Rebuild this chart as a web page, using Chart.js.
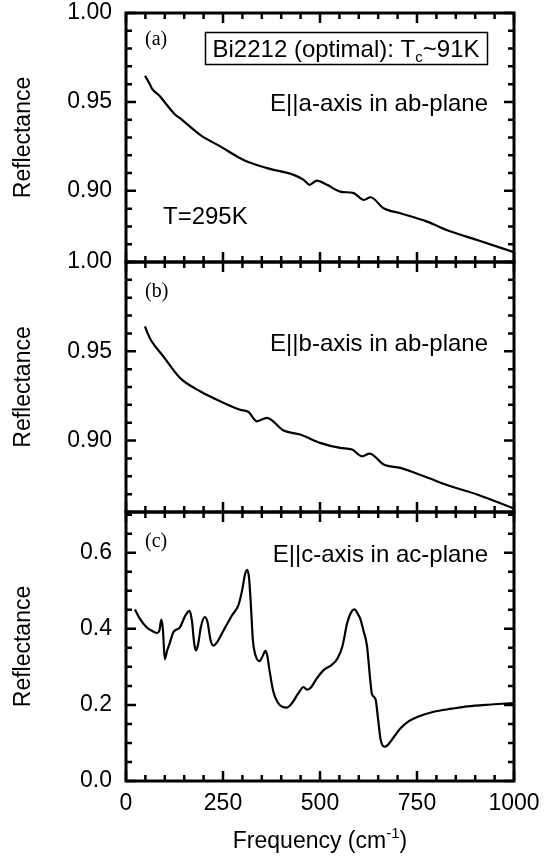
<!DOCTYPE html>
<html><head><meta charset="utf-8">
<script src="https://cdn.jsdelivr.net/npm/chart.js@4.4.0/dist/chart.umd.min.js"></script>
<style>
html,body{margin:0;padding:0;background:#fff;width:547px;height:861px;overflow:hidden;position:relative}
canvas{position:absolute;left:0}
</style></head><body>
<canvas id="ca" width="600" height="320" style="top:-20px"></canvas>
<canvas id="cb" width="600" height="320" style="top:230px"></canvas>
<canvas id="cc" width="600" height="381" style="top:480px"></canvas>
<script>
// ---- data ----
const freqA = [49, 62, 66, 88, 105, 127, 139, 191, 243, 303, 363, 432, 458, 473, 492, 518, 552, 587, 613, 630, 664, 707, 776, 837, 905, 1000];
const reflA = [0.9647, 0.9597, 0.9578, 0.9531, 0.9484, 0.9428, 0.9409, 0.9315, 0.9250, 0.9174, 0.9128, 0.9090, 0.9062, 0.9034, 0.9058, 0.9034, 0.8996, 0.8987, 0.8949, 0.8964, 0.8902, 0.8874, 0.8827, 0.8771, 0.8724, 0.8655];

const freqB = [49, 57, 66, 96, 139, 191, 243, 294, 316, 337, 363, 406, 449, 500, 552, 583, 608, 628, 664, 707, 768, 837, 905, 1000];
const reflB = [0.964, 0.9595, 0.9556, 0.9472, 0.9351, 0.9276, 0.9220, 0.9173, 0.9160, 0.9108, 0.9127, 0.9056, 0.9034, 0.8987, 0.8959, 0.8950, 0.8912, 0.8927, 0.8866, 0.8847, 0.8800, 0.8744, 0.8698, 0.8619];

const freqC = [23, 36, 53, 70, 80, 86, 91, 95, 100, 106, 112, 122, 139, 152, 164, 170, 176, 181, 186, 193, 203, 210, 218, 225, 235, 250, 273, 290, 300, 306, 312, 317, 322, 327, 333, 344, 353, 359, 364, 370, 380, 392, 403, 415, 428, 445, 458, 466, 476, 492, 510, 530, 545, 558, 570, 580, 589, 597, 604, 612, 621, 630, 634, 643, 650, 656, 666, 675, 690, 707, 730, 750, 793, 840, 880, 940, 1000];
const reflC = [0.451, 0.426, 0.404, 0.393, 0.389, 0.395, 0.424, 0.400, 0.320, 0.343, 0.360, 0.391, 0.404, 0.433, 0.447, 0.420, 0.360, 0.343, 0.360, 0.405, 0.431, 0.418, 0.370, 0.356, 0.365, 0.393, 0.435, 0.463, 0.505, 0.540, 0.555, 0.535, 0.460, 0.370, 0.333, 0.315, 0.330, 0.342, 0.330, 0.290, 0.234, 0.205, 0.195, 0.193, 0.205, 0.232, 0.247, 0.240, 0.245, 0.270, 0.292, 0.305, 0.322, 0.355, 0.415, 0.443, 0.451, 0.440, 0.426, 0.395, 0.356, 0.260, 0.228, 0.215, 0.160, 0.110, 0.090, 0.095, 0.115, 0.138, 0.158, 0.168, 0.182, 0.190, 0.196, 0.201, 0.205];

const xTicks = [0, 250, 500, 750, 1000];
const yTicksAB = [0.90, 0.95, 1.00];
const yTicksC = [0.0, 0.2, 0.4, 0.6];
const yRangeAB = [0.86, 1.00];
const yRangeC = [0.0, 0.707];

// ---- styling ----
const SANS = '"Liberation Sans", Arial, Helvetica, sans-serif';
const SERIF = '"Liberation Serif", "Times New Roman", serif';
const FS = 23;   // tick labels / titles
const FA = 24;   // annotations

function pts(xs, ys) { return xs.map((x, i) => ({ x: x, y: ys[i] })); }

function drawSubText(ctx, parts, x, y, size) {
  let cx = x;
  for (const p of parts) {
    if (p.sub || p.sup) {
      ctx.font = '15px ' + SANS;
      ctx.fillText(p.t, cx, p.sub ? y + 5 : y - 10);
    } else {
      ctx.font = size + 'px ' + SANS;
      ctx.fillText(p.t, cx, y);
    }
    cx += ctx.measureText(p.t).width;
  }
  return cx - x;
}
function partsWidth(ctx, parts, size) {
  let w = 0;
  for (const p of parts) {
    ctx.font = (p.sub || p.sup) ? '15px ' + SANS : size + 'px ' + SANS;
    w += ctx.measureText(p.t).width;
  }
  return w;
}

const framePlugin = {
  id: 'frame',
  afterDraw(chart, args, opts) {
    const { ctx, chartArea: a, scales: { x, y } } = chart;
    ctx.save();
    ctx.strokeStyle = '#000';
    ctx.fillStyle = '#000';
    ctx.lineCap = 'butt';
    ctx.lineWidth = 2.5;
    ctx.beginPath();
    for (let v = 0; v <= 1000; v += 50) {
      const px = x.getPixelForValue(v);
      const len = (v % 250 === 0) ? 10 : 6;
      ctx.moveTo(px, a.top); ctx.lineTo(px, a.top + len);
      ctx.moveTo(px, a.bottom); ctx.lineTo(px, a.bottom - len);
    }
    const minorStep = opts.minorStep, majors = opts.majors;
    const start = Math.ceil(y.min / minorStep - 1e-6);
    for (let k = start; k * minorStep <= y.max + 1e-9; k++) {
      const v = k * minorStep;
      const py = y.getPixelForValue(v);
      const isMaj = majors.some(m => Math.abs(m - v) < 1e-6);
      const len = isMaj ? 10 : 6;
      ctx.moveTo(a.left, py); ctx.lineTo(a.left + len, py);
      ctx.moveTo(a.right, py); ctx.lineTo(a.right - len, py);
    }
    ctx.stroke();
    ctx.lineWidth = 3;
    ctx.strokeRect(a.left, a.top, a.right - a.left, a.bottom - a.top);

    ctx.font = '20px ' + SERIF;
    ctx.textBaseline = 'alphabetic';
    ctx.textAlign = 'left';
    ctx.fillText(opts.letter, a.left + 19, a.top + opts.letterY);

    ctx.save();
    ctx.font = FS + 'px ' + SANS;
    ctx.translate(24, (a.top + a.bottom) / 2);
    ctx.rotate(-Math.PI / 2);
    ctx.textAlign = 'center';
    ctx.textBaseline = 'middle';
    ctx.fillText('Reflectance', 0, 0);
    ctx.restore();

    ctx.font = FA + 'px ' + SANS;
    ctx.textAlign = 'right';
    ctx.fillText(opts.label, a.right - 26, a.top + opts.labelY);

    if (opts.extra) opts.extra(chart, ctx, a);
    ctx.restore();
  }
};

function makeChart(id, xs, ys, yRange, yTicks, pad, opts, showX) {
  const decimals = opts.decimals;
  return new Chart(document.getElementById(id), {
    type: 'scatter',
    data: { datasets: [{ data: pts(xs, ys), showLine: true, borderColor: '#000', borderWidth: 2.2, pointRadius: 0, cubicInterpolationMode: 'monotone', fill: false }] },
    options: {
      responsive: false, animation: false, devicePixelRatio: 1,
      layout: { padding: pad },
      plugins: { legend: { display: false }, tooltip: { enabled: false }, frame: opts },
      scales: {
        x: {
          type: 'linear', min: 0, max: 1000, display: showX,
          afterBuildTicks: s => { s.ticks = xTicks.map(v => ({ value: v })); },
          afterFit: s => { if (showX) s.height = 80; },
          grid: { display: false, drawTicks: false }, border: { display: false },
          ticks: { color: '#000', padding: 11, maxRotation: 0, autoSkip: false, font: { family: SANS, size: FS, lineHeight: 1 }, callback: v => String(v) }
        },
        y: {
          type: 'linear', min: yRange[0], max: yRange[1],
          afterBuildTicks: s => { s.ticks = yTicks.map(v => ({ value: v })); },
          afterFit: s => { s.width = 126; },
          grid: { display: false, drawTicks: false }, border: { display: false },
          ticks: { color: '#000', padding: 14, autoSkip: false, font: { family: SANS, size: FS, lineHeight: 1 }, callback: v => Number(v).toFixed(decimals) }
        }
      }
    },
    plugins: [framePlugin]
  });
}

// page geometry: plot left 126, right 514; panels a 13-262, b 262-512, c 512-781
makeChart('ca', freqA, reflA, yRangeAB, yTicksAB, { top: 33, bottom: 38, left: 0, right: 86 }, {
  letter: '(a)', letterY: 32, label: 'E||a-axis in ab-plane', labelY: 98, minorStep: 0.01, majors: yTicksAB, decimals: 2,
  extra: (chart, ctx, a) => {
    const oy = a.top - 13; // page-to-canvas offset
    ctx.lineWidth = 1.5;
    ctx.strokeRect(205.5, 32.5 + oy, 282, 32);
    ctx.textAlign = 'left';
    const parts = [{ t: 'Bi2212 (optimal): T' }, { t: 'c', sub: true }, { t: '~91K' }];
    const w = partsWidth(ctx, parts, FA);
    drawSubText(ctx, parts, 205 + (282 - w) / 2, 57 + oy, FA);
    ctx.font = FA + 'px ' + SANS;
    ctx.fillText('T=295K', 163, 224 + oy);
  }
}, false);

makeChart('cb', freqB, reflB, yRangeAB, yTicksAB, { top: 32, bottom: 38, left: 0, right: 86 }, {
  letter: '(b)', letterY: 35, label: 'E||b-axis in ab-plane', labelY: 89, minorStep: 0.01, majors: yTicksAB, decimals: 2
}, false);

makeChart('cc', freqC, reflC, yRangeC, yTicksC, { top: 32, bottom: 0, left: 0, right: 86 }, {
  letter: '(c)', letterY: 35, label: 'E||c-axis in ac-plane', labelY: 50, minorStep: 0.05, majors: yTicksC, decimals: 1,
  extra: (chart, ctx, a) => {
    ctx.textAlign = 'left';
    ctx.textBaseline = 'alphabetic';
    const parts = [{ t: 'Frequency (cm' }, { t: '-1', sup: true }, { t: ')' }];
    const w = partsWidth(ctx, parts, FS);
    drawSubText(ctx, parts, (a.left + a.right) / 2 - w / 2, a.bottom + 67, FS);
  }
}, true);
</script>
</body></html>
